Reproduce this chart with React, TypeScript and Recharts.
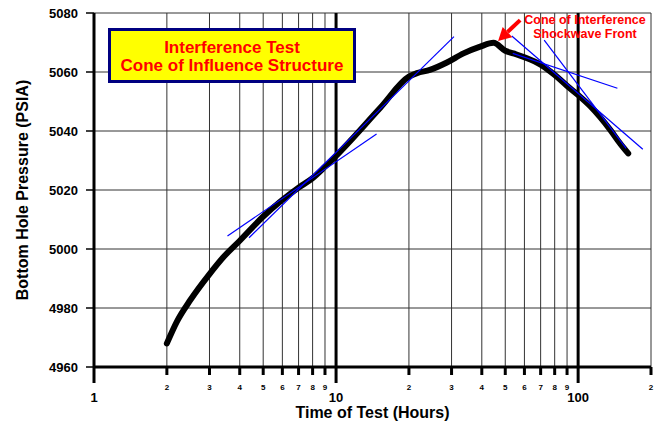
import { LineChart, Line, XAxis, YAxis, CartesianGrid, ReferenceLine, Label } from "recharts";

// main pressure curve (hours, psia)
const hours = [2, 2.2, 2.5, 3, 3.42, 4, 5, 5.87, 7, 8, 9, 10, 15.2, 20, 21.6, 24.4, 28.7, 33.6, 39.4, 44.7, 50, 54, 60, 70, 80, 90, 100, 112, 123, 136, 149, 161];
const pressure = [4968, 4975.4, 4982.7, 4991.5, 4997.2, 5002.8, 5011, 5016, 5020.8, 5024, 5027.9, 5031.6, 5047.8, 5058.4, 5059.6, 5060.7, 5063.2, 5066.3, 5068.6, 5069.9, 5067.2, 5066.3, 5065, 5062.5, 5059, 5055.3, 5052.2, 5048.5, 5044.8, 5040.3, 5035.8, 5032.4];

// thin blue tangent lines: [start, end]
const tangentHours = [
  [3.56, 14.7],
  [4.37, 30.7],
  [53.2, 185],
  [53.7, 145.3],
  [72.4, 157.9],
];
const tangentPressure = [
  [5004.4, 5039],
  [5003.8, 5072],
  [5072.2, 5033.8],
  [5066.3, 5054.5],
  [5070.8, 5034.1],
];

// arrow pointing at the peak: tail -> head
const arrowHours = [57.6, 46.7];
const arrowPressure = [5077.6, 5070.5];

const xTicks = [1, 2, 3, 4, 5, 6, 7, 8, 9, 10, 20, 30, 40, 50, 60, 70, 80, 90, 100, 200];
const decadeTicks = [1, 10, 100];
const yTicks = [4960, 4980, 5000, 5020, 5040, 5060, 5080];

const FONT = "'Liberation Sans', Arial, sans-serif";

const curveData = hours.map((t, i) => ({ t, p: pressure[i] }));
const tangents = tangentHours.map((pair, i) =>
  pair.map((t, j) => ({ t, p: tangentPressure[i][j] }))
);

function TimeTick(props: any) {
  const { x, y, payload } = props;
  const v = payload.value as number;
  const decade = decadeTicks.includes(v);
  const mag = Math.pow(10, Math.floor(Math.log10(v) + 1e-9));
  const label = decade ? String(v) : String(Math.round(v / mag));
  return (
    <g>
      <line x1={x} x2={x} y1={y} y2={y + (decade ? 16 : 8)} stroke="#000" strokeWidth={3} />
      <text
        x={x}
        y={decade ? y + 35 : y + 23}
        textAnchor="middle"
        fontSize={decade ? 13 : 8}
        fontWeight="bold"
        fontFamily={FONT}
        fill="#000"
      >
        {label}
      </text>
    </g>
  );
}

function Arrow(props: any) {
  const { x1, y1, x2, y2 } = props;
  const dx = x2 - x1;
  const dy = y2 - y1;
  const len = Math.sqrt(dx * dx + dy * dy);
  const ux = dx / len;
  const uy = dy / len;
  const headLen = 13;
  const headW = 7;
  const bx = x2 - ux * headLen;
  const by = y2 - uy * headLen;
  return (
    <g>
      <line x1={x1} y1={y1} x2={bx} y2={by} stroke="#ff0000" strokeWidth={4} />
      <polygon
        points={`${x2},${y2} ${bx - uy * headW},${by + ux * headW} ${bx + uy * headW},${by - ux * headW}`}
        fill="#ff0000"
      />
    </g>
  );
}

export default function App() {
  return (
    <div style={{ position: "absolute", left: 0, top: 0, width: 661, height: 422, background: "#fff", fontFamily: FONT }}>
      <LineChart width={661} height={422} data={curveData} margin={{ top: 13, right: 10, left: 0, bottom: 0 }}>
        <CartesianGrid stroke="#333" strokeWidth={1} />
        <XAxis
          dataKey="t"
          type="number"
          scale="log"
          domain={[1, 200]}
          ticks={xTicks}
          interval={0}
          allowDataOverflow
          height={55}
          tickSize={0}
          tickMargin={0}
          tickLine={false}
          axisLine={{ stroke: "#000", strokeWidth: 3 }}
          tick={<TimeTick />}
        >
          <Label
            content={(p: any) => {
              const vb = p.viewBox;
              return (
                <text x={vb.x + vb.width / 2} y={vb.y + 51} textAnchor="middle" fontSize={16} fontWeight="bold" fontFamily={FONT} fill="#000">
                  Time of Test (Hours)
                </text>
              );
            }}
          />
        </XAxis>
        <YAxis
          type="number"
          domain={[4960, 5080]}
          ticks={yTicks}
          interval={0}
          width={94}
          tickSize={8}
          tickMargin={8}
          tickLine={{ stroke: "#000", strokeWidth: 1.5 }}
          axisLine={{ stroke: "#000", strokeWidth: 3 }}
          tick={{ fill: "#000", fontSize: 13, fontWeight: "bold", fontFamily: FONT }}
        >
          <Label
            content={(p: any) => {
              const vb = p.viewBox;
              const cy = vb.y + vb.height / 2;
              return (
                <text
                  x={22}
                  y={cy}
                  transform={`rotate(-90, 22, ${cy})`}
                  textAnchor="middle"
                  dominantBaseline="central"
                  fontSize={16}
                  fontWeight="bold"
                  fontFamily={FONT}
                  fill="#000"
                >
                  Bottom Hole Pressure (PSIA)
                </text>
              );
            }}
          />
        </YAxis>
        {decadeTicks.slice(1).map((d) => (
          <ReferenceLine key={d} x={d} stroke="#000" strokeWidth={3} />
        ))}
        <Line
          type="monotone"
          dataKey="p"
          stroke="#000"
          strokeWidth={6}
          strokeLinejoin="round"
          strokeLinecap="round"
          dot={false}
          isAnimationActive={false}
        />
        {tangents.map((d, i) => (
          <Line
            key={i}
            data={d}
            dataKey="p"
            stroke="#0000ff"
            strokeWidth={1.2}
            dot={false}
            isAnimationActive={false}
          />
        ))}
        <ReferenceLine
          segment={[
            { x: arrowHours[0], y: arrowPressure[0] },
            { x: arrowHours[1], y: arrowPressure[1] },
          ]}
          shape={<Arrow />}
        />
      </LineChart>
      <div
        style={{
          position: "absolute",
          left: 108,
          top: 28,
          width: 248,
          height: 55,
          boxSizing: "border-box",
          border: "3px solid #000080",
          background: "#ffff00",
          color: "#ff0000",
          fontWeight: "bold",
          fontSize: 17,
          lineHeight: "18px",
          textAlign: "center",
          paddingTop: 8,
        }}
      >
        Interference Test
        <br />
        Cone of Influence Structure
      </div>
      <div
        style={{
          position: "absolute",
          left: 524,
          top: 13,
          width: 122,
          color: "#ff0000",
          fontWeight: "bold",
          fontSize: 12.5,
          lineHeight: "14px",
          textAlign: "center",
          whiteSpace: "nowrap",
        }}
      >
        Cone of Interference
        <br />
        Shockwave Front
      </div>
    </div>
  );
}
